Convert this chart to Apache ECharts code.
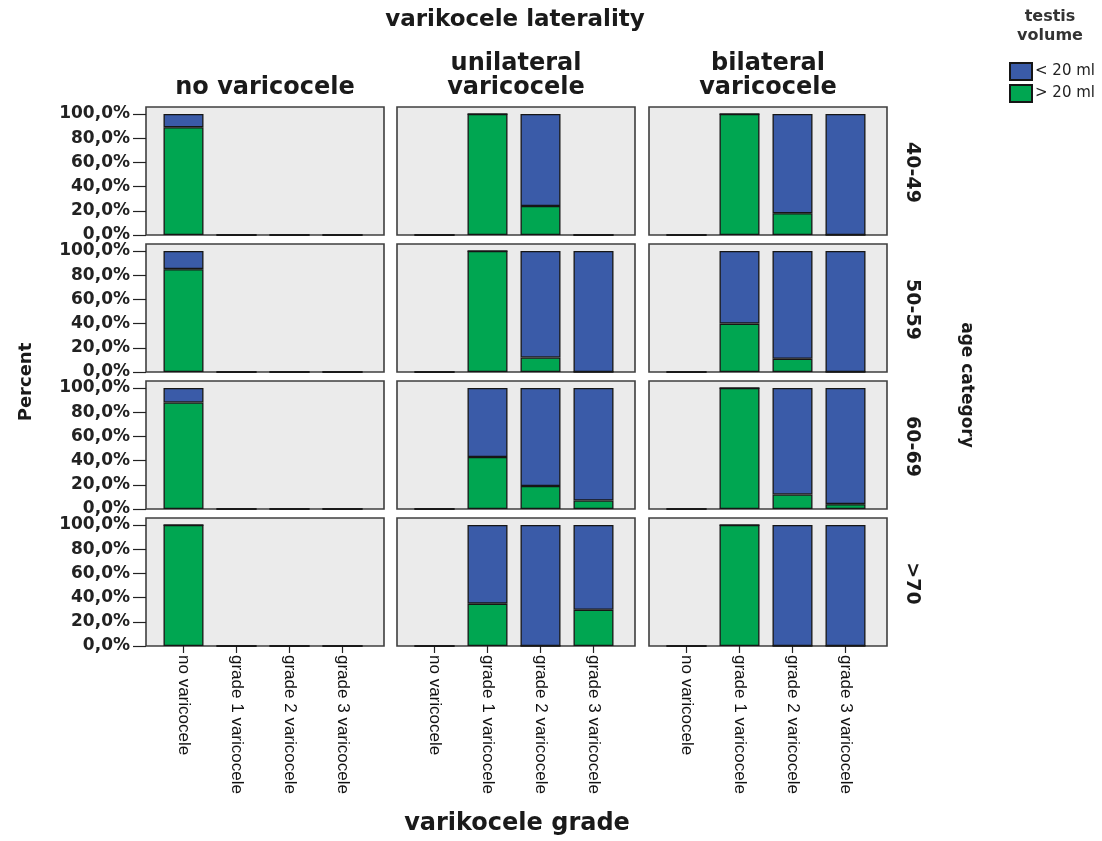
<!DOCTYPE html>
<html lang="en">
<head>
    <meta charset="UTF-8">
    <title>testis volume by varicocele grade</title>
    <script src="https://cdn.jsdelivr.net/npm/echarts@6/dist/echarts.min.js"></script>
    <style>
        body { margin: 0; background: #fff; }
        #chart { width: 1102px; height: 841px; }
    </style>
</head>
<body>
    <div id="chart"></div>

    <script>
        // categories
        const laterality = ['no varicocele', 'unilateral\nvaricocele', 'bilateral\nvaricocele'];
        const ageGroups = ['40-49', '50-59', '60-69', '>70'];
        const grades = ['no varicocele', 'grade 1 varicocele', 'grade 2 varicocele', 'grade 3 varicocele'];

        // percent "> 20 ml" (green) per age row, per laterality column
        const over20 = [
            [[89, 0, 0, 0], [0, 100, 24, 0], [0, 100, 18, 0]],
            [[85, 0, 0, 0], [0, 100, 12, 0], [0, 40, 11, 0]],
            [[88, 0, 0, 0], [0, 43, 19, 7], [0, 100, 12, 4]],
            [[100, 0, 0, 0], [0, 35, 0, 30], [0, 100, 0, 0]]
        ];
        // percent "< 20 ml" (blue)
        const under20 = [
            [[11, 0, 0, 0], [0, 0, 76, 0], [0, 0, 82, 100]],
            [[15, 0, 0, 0], [0, 0, 88, 100], [0, 60, 89, 100]],
            [[12, 0, 0, 0], [0, 57, 81, 93], [0, 0, 88, 96]],
            [[0, 0, 0, 0], [0, 65, 100, 70], [0, 0, 100, 100]]
        ];

        const GREEN = '#00a651';
        const BLUE = '#3a5ba8';
        const EDGE = '#161616';

        // layout of the panels
        const panelLeft = [146, 397, 649];
        const panelW = 238;
        const rowTop = [114, 251, 388, 525];
        const plotH = 121;
        const inset = 11;
        const bandW = 212;

        const chart = echarts.init(document.getElementById('chart'));

        const grid = [], xAxis = [], yAxis = [], series = [];

        ageGroups.forEach((age, r) => {
            laterality.forEach((lat, c) => {
                // decoration grid = grey panel
                grid.push({
                    show: true,
                    left: panelLeft[c], top: rowTop[r] - 7,
                    width: panelW, height: plotH + 7,
                    backgroundColor: '#ebebeb',
                    borderColor: '#3f3f3f', borderWidth: 1.6
                });
                // data grid
                const gi = grid.length;
                grid.push({
                    left: panelLeft[c] + inset, top: rowTop[r],
                    width: bandW, height: plotH
                });
                const last = r === ageGroups.length - 1;
                xAxis.push({
                    type: 'category', gridIndex: gi, data: grades,
                    axisLine: { show: false },
                    axisTick: { show: last, alignWithLabel: true, length: 7, lineStyle: { color: '#222', width: 1.2 } },
                    axisLabel: {
                        show: last, rotate: -90, margin: 9, interval: 0,
                        fontFamily: 'Liberation Sans', fontSize: 17, color: '#111'
                    }
                });
                yAxis.push({
                    type: 'value', gridIndex: gi, min: 0, max: 100, interval: 20,
                    show: c === 0, offset: inset,
                    axisLine: { show: false },
                    splitLine: { show: false },
                    axisTick: { show: true, length: 13, lineStyle: { color: '#222', width: 1.2 } },
                    axisLabel: {
                        margin: 16, fontFamily: 'DejaVu Sans', fontWeight: 'bold', fontSize: 17, color: '#222',
                        formatter: v => v.toFixed(1).replace('.', ',') + '%'
                    }
                });
                const ai = xAxis.length - 1;
                const stack = 'p' + r + '_' + c;
                series.push({
                    name: '> 20 ml', type: 'bar', stack, xAxisIndex: ai, yAxisIndex: ai,
                    barWidth: 40, data: over20[r][c],
                    itemStyle: { color: GREEN, borderColor: EDGE, borderWidth: 1.3 }
                });
                series.push({
                    name: '< 20 ml', type: 'bar', stack, xAxisIndex: ai, yAxisIndex: ai,
                    barWidth: 40, data: under20[r][c],
                    itemStyle: { color: BLUE, borderColor: EDGE, borderWidth: 1.3 }
                });
            });
        });

        const bold = size => ({ fontFamily: 'DejaVu Sans', fontWeight: 'bold', fontSize: size, fill: '#1a1a1a' });
        const txt = (text, x, y, size, rot, extra) => ({
            type: 'text', x, y, rotation: rot || 0,
            style: Object.assign({ text, align: 'center', verticalAlign: 'middle' }, bold(size), extra || {})
        });

        const graphic = [
            txt('varikocele laterality', 515, 20, 23),
            txt('varikocele grade', 517, 824, 24),
            txt('Percent', 26, 382, 18, Math.PI / 2),
            txt('age category', 966, 385, 17, -Math.PI / 2),
            txt('testis\nvolume', 1050, 26, 16, 0, { lineHeight: 19, fill: '#333' })
        ];
        laterality.forEach((lat, c) => {
            graphic.push(txt(lat, panelLeft[c] + panelW / 2, lat.indexOf('\n') >= 0 ? 76 : 88, 24, 0, { lineHeight: 24 }));
        });
        ageGroups.forEach((age, r) => {
            graphic.push(txt(age, 912, rowTop[r] + plotH / 2 - 2, 19, -Math.PI / 2));
        });

        const option = {
            animation: false,
            grid, xAxis, yAxis, series, graphic,
            legend: {
                data: ['< 20 ml', '> 20 ml'],
                orient: 'vertical', left: 1004, top: 57,
                itemWidth: 22, itemHeight: 17, itemGap: 3,
                icon: 'rect',
                textStyle: { fontFamily: 'DejaVu Sans', fontSize: 15, color: '#222', padding: [0, 0, 0, -2] }
            }
        };

        chart.setOption(option);
    </script>
</body>
</html>
